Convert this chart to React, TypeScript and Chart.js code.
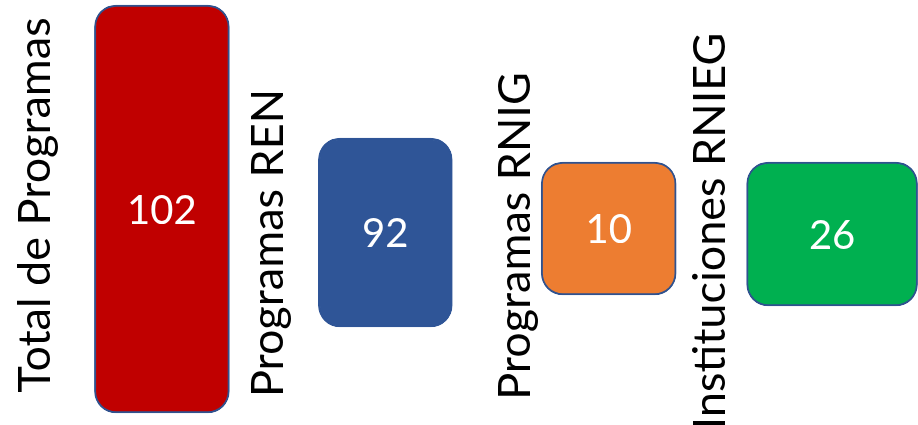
import React, { useEffect, useRef } from "react";
import { Chart, registerables } from "chart.js";

Chart.register(...registerables);

// ---- data ----
const categories = ["Total de Programas", "Programas REN", "Programas RNIG", "Instituciones RNIEG"];
const values = [102, 92, 10, 26];
const fillColors = ["#C00000", "#2F5597", "#ED7D31", "#00B050"];

// ---- layout (box geometry of the infographic, not data) ----
const boxTop = [5, 138, 162, 162];
const boxBottom = [413, 327, 295, 306];
const boxWidth = [135, 134, 135, 171];
const labelGap = [44, 35, 11, 22];
const labelCenter = [205, 243, 236, 231];

const LABEL_FONT = "45px Lato";
const VALUE_FONT = "40px Lato";

const textPlugin = {
  id: "boxText",
  afterDatasetsDraw(chart: any) {
    const ctx = chart.ctx;
    const yScale = chart.scales.y;
    chart.data.datasets.forEach((ds: any, i: number) => {
      const meta = chart.getDatasetMeta(i);
      const el = meta.data[0];
      if (!el) return;
      const { x, y, base, width } = el.getProps(["x", "y", "base", "width"], true);
      // value inside the box
      ctx.save();
      ctx.font = VALUE_FONT;
      ctx.fillStyle = "#FFFFFF";
      ctx.textAlign = "center";
      ctx.textBaseline = "middle";
      ctx.fillText(String(values[i]), x, (y + base) / 2 + 2);
      ctx.restore();
      // rotated category label left of the box
      ctx.save();
      ctx.font = LABEL_FONT;
      ctx.fillStyle = "#000000";
      ctx.textAlign = "center";
      ctx.textBaseline = "alphabetic";
      ctx.translate(x - width / 2 - labelGap[i], yScale.getPixelForValue(labelCenter[i]));
      ctx.rotate(-Math.PI / 2);
      ctx.fillText(categories[i], 0, 0);
      ctx.restore();
    });
  },
};

export default function App() {
  const canvasRef = useRef<HTMLCanvasElement | null>(null);

  useEffect(() => {
    let chart: Chart | null = null;
    let cancelled = false;
    const build = () => {
      if (cancelled || !canvasRef.current) return;
      chart = new Chart(canvasRef.current, {
        type: "bar",
        data: {
          datasets: categories.map((c, i) => ({
            label: c,
            data: [{ x: i, y: [boxTop[i], boxBottom[i]] }] as any,
            backgroundColor: fillColors[i],
            borderColor: i === 1 ? fillColors[i] : "#2F528F",
            borderWidth: 2,
            borderRadius: 22,
            borderSkipped: false,
            barThickness: boxWidth[i],
            grouped: false,
          })),
        },
        options: {
          animation: false,
          responsive: true,
          maintainAspectRatio: false,
          events: [],
          layout: { padding: 0 },
          plugins: { legend: { display: false }, tooltip: { enabled: false } },
          scales: {
            x: { type: "linear", min: -0.7247, max: 3.3845, offset: false, display: false },
            y: { type: "linear", min: 0, max: 425, reverse: true, display: false },
          },
        },
        plugins: [textPlugin],
      });
    };
    const fontsReady = (document as any).fonts
      ? Promise.all([
          (document as any).fonts.load(LABEL_FONT),
          (document as any).fonts.load(VALUE_FONT),
        ]).catch(() => null)
      : Promise.resolve(null);
    fontsReady.then(build);
    return () => {
      cancelled = true;
      if (chart) chart.destroy();
    };
  }, []);

  return (
    <div style={{ position: "fixed", left: 0, top: 0, width: 918, height: 425, background: "#FFFFFF" }}>
      <canvas ref={canvasRef} />
    </div>
  );
}
